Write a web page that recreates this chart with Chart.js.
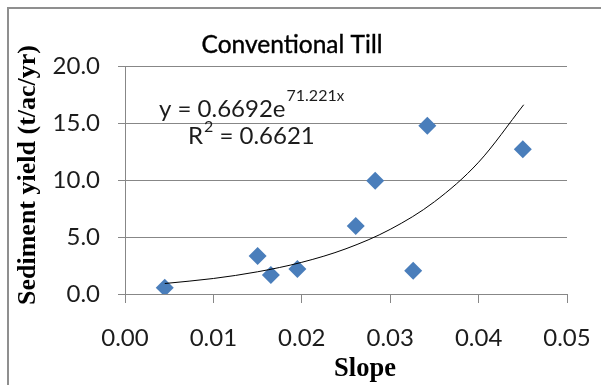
<!DOCTYPE html>
<html><head><meta charset="utf-8">
<script src="https://cdn.jsdelivr.net/npm/chart.js@4.4.1/dist/chart.umd.min.js"></script>
<style>html,body{margin:0;padding:0;background:#fff}#wrap{width:601px;height:385px;position:relative}canvas{display:block}</style>
</head><body><div id="wrap"><canvas id="c" width="601" height="385"></canvas></div>
<script>
// ---- data ----
const chartTitle = 'Conventional Till';
const xAxisTitle = 'Slope';
const yAxisTitle = 'Sediment yield (t/ac/yr)';
const slope = [0.0045, 0.0150, 0.0165, 0.0195, 0.0261, 0.0283, 0.0326, 0.0342, 0.0450];
const sedimentYield = [0.55, 3.33, 1.67, 2.19, 5.96, 9.94, 2.05, 14.76, 12.69];
// points
const trendSlope = [0.0045, 0.0100, 0.0150, 0.0200, 0.0250, 0.0300, 0.0350, 0.0400, 0.0451];
const trendYield = [0.92, 1.36, 1.95, 2.78, 3.97, 5.67, 8.09, 11.56, 16.6];
const xTickValues = [0, 0.01, 0.02, 0.03, 0.04, 0.05];
const yTickValues = [0, 5, 10, 15, 20];
const equationMain = 'y = 0.6692e';
const equationExp = '71.221';
const equationExpVar = 'x';
const r2Label = 'R';
const r2Sup = '2';
const r2Value = ' = 0.6621';

const LABEL_FONT = 'Lato';
const SERIF = '"Liberation Serif", "Times New Roman", serif';
const GRID = '#878787';
const TEXT = '#1c1c1c';

const decor = {
  id: 'decor',
  beforeDraw(chart) {
    const ctx = chart.ctx;
    ctx.save();
    ctx.fillStyle = '#fff';
    ctx.fillRect(0, 0, chart.width, chart.height);
    ctx.strokeStyle = '#8f8f8f';
    ctx.lineWidth = 2;
    ctx.strokeRect(8, 8, chart.width + 20, chart.height + 20);
    ctx.restore();
  },
  afterDraw(chart) {
    const ctx = chart.ctx;
    ctx.save();
    ctx.fillStyle = '#000';
    ctx.textBaseline = 'alphabetic';
    ctx.textAlign = 'center';
    ctx.font = '24.5px ' + LABEL_FONT;
    ctx.fillText(chartTitle, 292, 53);
    ctx.strokeStyle = '#000';
    ctx.lineWidth = 0.4;
    ctx.strokeText(chartTitle, 292, 53);
    // axis titles
    ctx.font = 'bold 26.5px ' + SERIF;
    ctx.fillText(xAxisTitle, 365, 376);
    ctx.save();
    ctx.translate(28, 175);
    ctx.rotate(-Math.PI / 2);
    ctx.textBaseline = 'middle';
    ctx.font = 'bold 26px ' + SERIF;
    ctx.fillText(yAxisTitle, 0, 0);
    ctx.restore();
    // trendline equation
    ctx.textAlign = 'left';
    ctx.fillStyle = TEXT;
    let x = 159, base = 117;
    ctx.font = '24px ' + LABEL_FONT;
    ctx.fillText(equationMain, x, base);
    x += ctx.measureText(equationMain).width + 1;
    ctx.font = '16px ' + LABEL_FONT;
    ctx.fillText(equationExp, x, base - 16);
    x += ctx.measureText(equationExp).width;
    ctx.font = '15px ' + LABEL_FONT;
    ctx.fillText(equationExpVar, x, base - 16);
    x = 188; base = 143.5;
    ctx.font = '24px ' + LABEL_FONT;
    ctx.fillText(r2Label, x, base);
    x += ctx.measureText(r2Label).width + 1;
    ctx.font = '16px ' + LABEL_FONT;
    ctx.fillText(r2Sup, x, base - 12);
    x += ctx.measureText(r2Sup).width;
    ctx.font = '24px ' + LABEL_FONT;
    ctx.fillText(r2Value, x, base);
    ctx.restore();
  }
};

new Chart(document.getElementById('c'), {
  type: 'scatter',
  data: {
    datasets: [
      {
        label: 'Trend',
        data: trendSlope.map((s, i) => ({ x: s, y: trendYield[i] })),
        showLine: true,
        borderColor: '#000',
        borderWidth: 1,
        pointRadius: 0,
        fill: false,
        tension: 0.4,
        cubicInterpolationMode: 'monotone'
      },
      {
        label: 'Sediment yield',
        data: slope.map((s, i) => ({ x: s, y: sedimentYield[i] })),
        pointStyle: 'rectRot',
        pointRadius: 9,
        backgroundColor: '#4a7ebb',
        borderColor: '#4a7ebb',
        borderWidth: 0
      }
    ]
  },
  options: {
    responsive: false,
    devicePixelRatio: 1,
    animation: false,
    layout: { padding: { top: 66, right: 34, left: 0, bottom: 0 } },
    plugins: { legend: { display: false }, tooltip: { enabled: false }, title: { display: false } },
    scales: {
      x: {
        type: 'linear',
        min: 0, max: 0.05,
        afterBuildTicks: s => { s.ticks = xTickValues.map(v => ({ value: v })); },
        afterFit: s => { s.height = 91; s.paddingLeft = 0; s.paddingRight = 0; },
        grid: { drawOnChartArea: false, drawTicks: true, tickLength: 9, color: GRID },
        border: { display: true, color: GRID, width: 1 },
        ticks: { padding: 21, color: TEXT, font: { family: LABEL_FONT, size: 24 }, maxRotation: 0,
          callback: v => Number(v).toFixed(2) },
        title: { display: false }
      },
      y: {
        type: 'linear',
        min: 0, max: 20,
        afterBuildTicks: s => { s.ticks = yTickValues.map(v => ({ value: v })); },
        afterFit: s => { s.width = 125; s.paddingTop = 0; s.paddingBottom = 0; },
        grid: { drawOnChartArea: true, drawTicks: true, tickLength: 7, color: GRID },
        border: { display: true, color: GRID, width: 1 },
        ticks: { padding: 18, color: TEXT, font: { family: LABEL_FONT, size: 24 },
          callback: v => Number(v).toFixed(1) },
        title: { display: false }
      }
    }
  },
  plugins: [decor]
});
</script>
</body></html>
